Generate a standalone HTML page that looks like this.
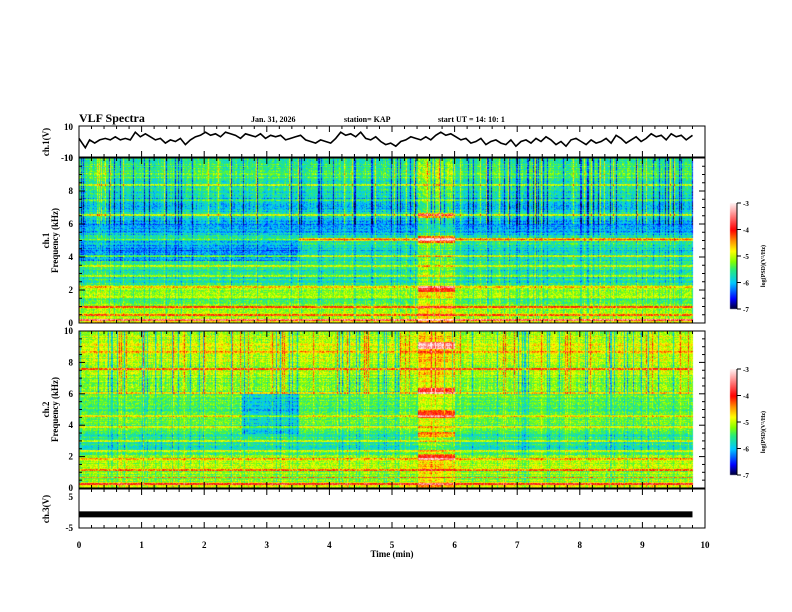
<!DOCTYPE html>
<html><head><meta charset="utf-8"><style>
html,body{margin:0;padding:0;background:#fff;width:792px;height:612px;overflow:hidden}
#wrap{position:relative;width:792px;height:612px}
canvas,svg{position:absolute;left:0;top:0}
text{font-family:"Liberation Serif",serif;font-weight:bold;fill:#000}
</style></head><body>
<div id="wrap">
<canvas id="cv" width="792" height="612"></canvas>
<svg id="sv" width="792" height="612"></svg>
</div>
<script>
// ---- data ----
const xTicks=[0,1,2,3,4,5,6,7,8,9,10];
const waveT=[0,0.05,0.1,0.17,0.25,0.33,0.42,0.5,0.58,0.66,0.74,0.82,0.9,0.98,1.06,1.14,1.22,1.3,1.38,1.46,1.54,1.62,1.7,1.78,1.86,1.94,2.02,2.1,2.18,2.26,2.34,2.42,2.5,2.58,2.66,2.74,2.82,2.9,2.98,3.06,3.14,3.22,3.3,3.38,3.46,3.54,3.62,3.7,3.78,3.86,3.94,4.02,4.1,4.18,4.26,4.34,4.42,4.5,4.58,4.66,4.74,4.82,4.9,4.98,5.06,5.14,5.22,5.3,5.38,5.46,5.54,5.62,5.7,5.78,5.86,5.94,6.02,6.1,6.18,6.26,6.34,6.42,6.5,6.58,6.66,6.74,6.82,6.9,6.98,7.06,7.14,7.22,7.3,7.38,7.46,7.54,7.62,7.7,7.78,7.86,7.94,8.02,8.1,8.18,8.26,8.34,8.42,8.5,8.58,8.66,8.74,8.82,8.9,8.98,9.06,9.14,9.22,9.3,9.38,9.46,9.54,9.62,9.7,9.8];
const waveV=[2,-1,-4,1,-1,1,2,1,3,1,2,1,6,3,5,3,1,2,-1,1,0,2,-2,1,3,4,6,4,5,3,6,5,4,2,5,4,3,5,2,4,3,4,1,2,3,4,1,0,-1,1,0,-1,2,6,4,5,3,6,2,1,3,0,-2,-1,-3,0,1,3,2,1,3,1,4,6,4,5,3,1,2,-1,0,2,-2,0,1,-1,-2,1,-3,0,1,-1,2,0,3,1,-2,0,-3,1,2,0,-2,1,-1,0,2,-1,4,2,-1,1,3,0,2,5,3,4,1,5,3,4,1,4];
const ch3V=[-1.5,-1.5];
const freqBins=[0,0.5,1,1.5,2,2.5,3,3.5,4,4.5,5,5.5,6,6.5,7,7.5,8,8.5,9,9.5,10];
const ch1Level=[-4.7,-5.1,-5.1,-5.5,-5.1,-5.6,-5.7,-5.6,-5.7,-5.8,-5.5,-6.0,-6.2,-5.7,-5.9,-6.0,-5.7,-5.6,-5.4,-5.5,-5.5];
const ch2Level=[-4.8,-5.2,-5.2,-5.0,-5.2,-5.6,-5.6,-5.5,-5.4,-5.3,-5.5,-5.4,-5.3,-5.2,-5.2,-5.1,-5.0,-5.0,-4.9,-5.0,-5.0];
// events: [tStart,tEnd,fLow,fHigh,delta]
const ch1Events=[[0,3.5,3.8,5.2,-0.4],[5.4,6.0,0,10,0.4],[5.4,6.0,4.9,5.3,1.0],[5.4,6.0,6.4,6.7,0.8],[5.4,6.0,1.9,2.3,0.8],[3.5,10,5.0,5.2,0.6]];
const ch2Events=[[2.6,3.5,3.5,6.0,-0.5],[5.4,6.0,0,10,0.4],[5.4,6.0,8.9,9.3,1.2],[5.4,6.0,6.0,6.4,1.0],[5.4,6.0,4.5,5.0,0.9],[5.4,6.0,3.3,3.6,0.8],[5.4,6.0,1.8,2.2,0.8]];
// horizontal lines [kHz, delta]
const ch1Lines=[[0.2,1.3],[0.5,0.8],[1.0,0.9],[1.6,0.6],[2.2,0.9],[2.9,0.7],[3.5,0.6],[4.1,0.7],[5.1,0.6],[6.6,0.7],[7.5,0.5],[8.4,0.5]];
const ch2Lines=[[0.3,1.3],[0.7,0.8],[1.2,0.8],[1.9,0.8],[2.4,0.6],[3.0,0.7],[3.9,0.6],[4.6,0.6],[6.1,0.7],[7.6,0.8],[8.7,0.5]];
const cbTicks=[-3,-4,-5,-6,-7];

// ---- geometry ----
const X0=79,X1=705;
const xs=t=>X0+(X1-X0)*t/10;
const P={wave:[126,157],s1:[158,323],s2:[331,488],c3:[489,528]};
const svg=document.getElementById('sv');const NS='http://www.w3.org/2000/svg';
function el(tag,at,txt){const e=document.createElementNS(NS,tag);for(const k in at)e.setAttribute(k,at[k]);if(txt!==undefined)e.textContent=txt;svg.appendChild(e);return e;}
function hash(a,b){let h=(a*374761393+b*668265263)|0;h=(h^(h>>>13))*1274126177|0;return ((h^(h>>>16))>>>0)/4294967295;}

// colormap
const stops=[[-7,[0,0,40]],[-6.6,[0,0,255]],[-6.0,[0,200,255]],[-5.5,[40,235,120]],[-5.2,[130,255,0]],[-4.8,[255,255,0]],[-4.4,[255,140,0]],[-4.0,[255,0,0]],[-3.0,[255,240,240]]];
function cmap(v){if(v<=stops[0][0])return stops[0][1];for(let i=1;i<stops.length;i++){if(v<=stops[i][0]){const a=stops[i-1],b=stops[i],f=(v-a[0])/(b[0]-a[0]);return a[1].map((c,j)=>c+(b[1][j]-c)*f);}}return stops[stops.length-1][1];}

const cv=document.getElementById('cv');const ctx=cv.getContext('2d');
function spectro(y0,y1,levels,events,lines,seed){
  const w=X1-X0,h=y1-y0;const img=ctx.createImageData(w,h);
  const colOff=[];for(let x=0;x<w;x++){const r=hash(x,seed);colOff.push(r>0.88?-0.6:(r<0.06?0.5:(hash(x,seed+7)-0.5)*0.3));}
  for(let y=0;y<h;y++){
    const f=10*(1-y/h);
    const bi=Math.min(19,Math.floor(f/0.5)),fr=(f-freqBins[bi])/0.5;
    let base=levels[bi]+(levels[bi+1]-levels[bi])*fr;
    let rowOff=(hash(y,seed+3)-0.5)*0.4;
    for(const l of lines){if(Math.abs(f-l[0])<0.06)rowOff+=l[1];}
    for(let x=0;x<w;x++){
      const t=10*x/w;let v=base+rowOff+colOff[x]*(f>6?1.4:0.6)+(hash(x*7+y,seed+11)-0.5)*0.6;
      for(const e of events){if(t>=e[0]&&t<e[1]&&f>=e[2]&&f<e[3])v+=e[4];}
      const c=t>9.8?[255,255,255]:cmap(v);const i=(y*w+x)*4;
      img.data[i]=c[0];img.data[i+1]=c[1];img.data[i+2]=c[2];img.data[i+3]=255;
    }
  }
  ctx.putImageData(img,X0,y0);
}
spectro(P.s1[0],P.s1[1],ch1Level,ch1Events,ch1Lines,1);
spectro(P.s2[0],P.s2[1],ch2Level,ch2Events,ch2Lines,2);
// colorbars
function cbar(y0,y1){for(let y=y0;y<y1;y++){const v=-3-4*(y-y0)/(y1-y0);const c=cmap(v);ctx.fillStyle=`rgb(${c.map(Math.round).join(',')})`;ctx.fillRect(730,y,7,1);}}
cbar(203,309);cbar(369,475);

// ---- axes ----
function box(p,name){el('rect',{x:X0,y:p[0],width:X1-X0,height:p[1]-p[0],fill:'none',stroke:'#000','stroke-width':1,});
  for(let i=0;i<=50;i++){const x=xs(i/5),L=i%5==0?6:3;el('line',{x1:x,x2:x,y1:p[1],y2:p[1]-L,stroke:'#000',});el('line',{x1:x,x2:x,y1:p[0],y2:p[0]+L,stroke:'#000',});}}
box(P.wave,'ch1-waveform-panel');box(P.s1,'ch1-spectrogram-panel');box(P.s2,'ch2-spectrogram-panel');box(P.c3,'ch3-panel');
// waveform
const wy=v=>P.wave[0]+(P.wave[1]-P.wave[0])*(10-v)/20;
let d='';waveT.forEach((t,i)=>{d+=(i?'L':'M')+xs(t).toFixed(1)+','+wy(waveV[i]).toFixed(1);});
el('path',{d:d,fill:'none',stroke:'#000','stroke-width':1.6,});
el('text',{x:73,y:130,'font-size':9,'text-anchor':'end',},'10');
el('text',{x:73,y:161,'font-size':9,'text-anchor':'end',},'-10');
el('text',{x:0,y:0,'font-size':9,'text-anchor':'middle',transform:'translate(49,142) rotate(-90)',},'ch.1(V)');
// ch3
const cy=v=>P.c3[0]+(P.c3[1]-P.c3[0])*(5-v)/10;
el('rect',{x:X0,y:cy(ch3V[0])-3,width:xs(9.8)-X0,height:6,fill:'#000',});
el('text',{x:73,y:500,'font-size':9,'text-anchor':'end',},'5');
el('text',{x:73,y:531,'font-size':9,'text-anchor':'end',},'-5');
el('text',{x:0,y:0,'font-size':9,'text-anchor':'middle',transform:'translate(49,509) rotate(-90)',},'ch.3(V)');
// spectro y ticks
function fAxis(p,ch){
  for(let k=0;k<=10;k+=2){const y=p[1]-(p[1]-p[0])*k/10;el('text',{x:73,y:y+3,'font-size':9,'text-anchor':'end',},String(k));}
  for(let k=0;k<=10;k+=0.5){const y=p[1]-(p[1]-p[0])*k/10,L=k%2==0?6:3;el('line',{x1:X0,x2:X0+L,y1:y,y2:y,stroke:'#000',});el('line',{x1:X1,x2:X1-L,y1:y,y2:y,stroke:'#000',});}
  const m=(p[0]+p[1])/2;
  el('text',{x:0,y:0,'font-size':9,'text-anchor':'middle',transform:`translate(49,${m}) rotate(-90)`,},ch.replace('ch','ch.'));
  el('text',{x:0,y:0,'font-size':9,'text-anchor':'middle',transform:`translate(58,${m}) rotate(-90)`,},'Frequency (kHz)');
}
fAxis(P.s1,'ch1');fAxis(P.s2,'ch2');
// colorbar labels
function cbLab(y0,y1){cbTicks.forEach((v,i)=>{const y=y0+(y1-y0)*i/4;el('line',{x1:737,x2:741,y1:y,y2:y,stroke:'#000',});el('text',{x:743,y:y+3,'font-size':7,},String(v));});
  el('line',{x1:737,x2:737,y1:y0,y2:y1,stroke:'#000',});
  el('text',{x:0,y:0,'font-size':6,'text-anchor':'middle',transform:`translate(765,${(y0+y1)/2+10}) rotate(-90)`,},'log(PSD)(V²/Hz)');}
cbLab(203,309);cbLab(369,475);
// x labels
xTicks.forEach(t=>el('text',{x:xs(t),y:548,'font-size':9,'text-anchor':'middle',},String(t)));
el('text',{x:392,y:557,'font-size':9,'text-anchor':'middle',},'Time (min)');
// header
el('text',{x:79,y:122,'font-size':12,'font-weight':'normal',},'VLF Spectra');
el('text',{x:251,y:122,'font-size':8,},'Jan. 31, 2026');
el('text',{x:344,y:122,'font-size':8,},'station= KAP');
el('text',{x:438,y:122,'font-size':8,},'start  UT =   14: 10: 1');
</script>
</body></html>
